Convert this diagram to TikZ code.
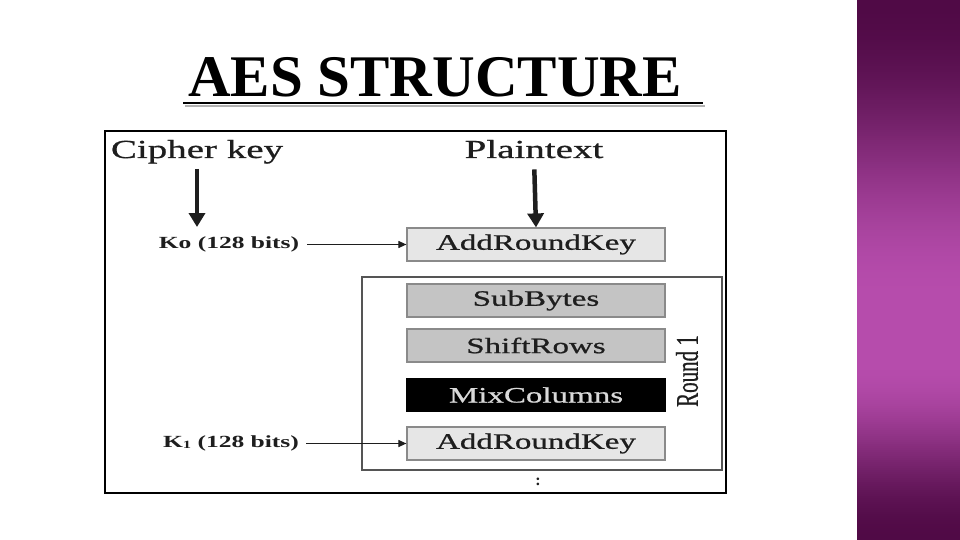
\documentclass[tikz,border=0pt]{standalone}
\usepackage{fontspec}
\setmainfont{Liberation Serif}
\newfontfamily\wide[FakeStretch=1.5,FakeBold=0.8]{Liberation Serif}
\newfontfamily\widebold[FakeStretch=1.5]{Liberation Serif Bold}
\newfontfamily\roundfont[FakeBold=0.8]{Liberation Serif}
\usetikzlibrary{arrows.meta}
\definecolor{txt}{HTML}{1E1E1E}
\definecolor{lightbox}{HTML}{E6E6E6}
\definecolor{midbox}{HTML}{C4C4C4}
\definecolor{boxedge}{HTML}{8A8A8A}
\definecolor{roundedge}{HTML}{555555}
\definecolor{banddark}{RGB}{80,10,70}
\definecolor{bandpink}{RGB}{182,76,172}
\tikzset{
  stagebox/.style={draw=boxedge, line width=1.2pt, minimum width=258pt, minimum height=33pt, inner sep=0pt, font=\wide\fontsize{22}{24}\selectfont, text=txt},
  keylabel/.style={inner sep=0pt, font=\widebold\fontsize{17}{18}\selectfont, text=txt},
  headlabel/.style={inner sep=0pt, font=\wide\fontsize{26}{28}\selectfont, text=txt},
  bigarrow/.style={line width=4.5pt, -{Triangle[length=14pt,width=16pt]}, txt},
  keyarrow/.style={line width=1.1pt, -{Triangle[length=8pt,width=7pt]}, txt}
}
\begin{document}
\begin{tikzpicture}[x=1pt,y=-1pt]
\useasboundingbox (0,0) rectangle (960,540);
\fill[white] (0,0) rectangle (960,540);
% purple band (smooth stepwise gradient)
\foreach \y in {0,2,...,298} {
  \pgfmathsetmacro\p{50-50*cos(0.6*\y)}
  \fill[bandpink!\p!banddark] (857,\y) rectangle (960,\y+2.4);
}
\fill[bandpink] (857,300) rectangle (960,360.4);
\foreach \y in {360,362,...,538} {
  \pgfmathsetmacro\p{50+50*cos(\y-360)}
  \fill[bandpink!\p!banddark] (857,\y) rectangle (960,\y+2.4);
}
% title
\node[inner sep=0pt, anchor=base, font=\bfseries\fontsize{59}{60}\selectfont] (title) at (435,97) {AES STRUCTURE};
\coordinate (ulA) at (183,103);
\coordinate (ulB) at (703,103);
\coordinate (ulAs) at (185,106);
\coordinate (ulBs) at (705,106);
\draw[gray!60, line width=2pt] (ulAs) -- (ulBs);
\draw[black, line width=2pt] (ulA) -- (ulB);
% outer frame
\node[draw=black, line width=2pt, minimum width=621pt, minimum height=362pt, inner sep=0pt] (frame) at (415.5,312) {};
% round box
\node[draw=roundedge, line width=2pt, minimum width=360pt, minimum height=193pt, inner sep=0pt] (roundbox) at (541.5,373.5) {};
% heads
\node[headlabel, anchor=base] (cipher) at (197,158) {Cipher key};
\node[headlabel, anchor=base] (plain) at (534,158) {Plaintext};
% stage boxes
\node[stagebox, fill=lightbox] (ark1) at (536,244.5) {AddRoundKey};
\node[stagebox, fill=midbox] (sub) at (536,300.5) {SubBytes};
\node[stagebox, fill=midbox] (shift) at (536,345.5) {ShiftRows};
\node[stagebox, fill=black, draw=black, text=white!85!black] (mix) at (536,395) {MixColumns};
\node[stagebox, fill=lightbox] (ark2) at (536,443.5) {AddRoundKey};
% key labels
\node[keylabel] (k0) at (229,244.5) {Ko (128 bits)};
\node[keylabel] (k1) at (231,443.5) {K{\fontsize{11}{12}\selectfont\raisebox{-1pt}{1}} (128 bits)};
% round label
\node[rotate=90, inner sep=0pt, text=txt] (roundlbl) at (687,371) {\scalebox{1}[1.5]{\roundfont\fontsize{21}{22}\selectfont Round 1}};
% continuation dots
\node[inner sep=0pt, text=txt, font=\bfseries\fontsize{16}{16}\selectfont] (dots) at (538,482) {:};
% arrows
\coordinate (ckstart) at (197,169);
\coordinate (ckend) at (197,227);
\draw[bigarrow] (ckstart) -- (ckend);
\draw[bigarrow, shorten <=11pt] (plain.south) -- (ark1.north);
\draw[keyarrow, shorten <=8pt] (k0.east) -- (ark1.west);
\draw[keyarrow, shorten <=7pt] (k1.east) -- (ark2.west);
\end{tikzpicture}
\end{document}
